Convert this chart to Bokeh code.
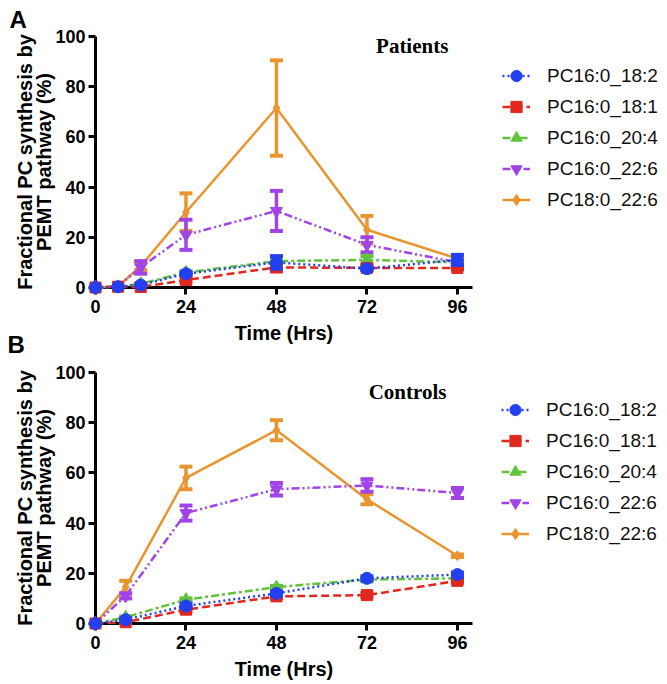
from bokeh.plotting import figure
from bokeh.models import Range1d, Legend, LegendItem, Label, FixedTicker, Title
from bokeh.layouts import column
from bokeh.embed import file_html
from bokeh.resources import INLINE

# ---------------- data ----------------
series_names = ["PC16:0_18:2", "PC16:0_18:1", "PC16:0_20:4", "PC16:0_22:6", "PC18:0_22:6"]

# Panel A: Patients
time_a = [0, 6, 12, 24, 48, 72, 96]
pat_18_2 = [0, 0.3, 1.0, 5.5, 10.0, 7.5, 11.0]
pat_18_1 = [0, 0.3, 0.2, 3.0, 8.0, 7.8, 7.8]
pat_20_4 = [0, 0.3, 1.5, 6.0, 10.5, 11.0, 10.0]
pat_22_6 = [0, 0.5, 8.0, 21.0, 30.5, 17.0, 10.0]
pat_18_0_22_6 = [0, 0.5, 8.5, 30.0, 71.5, 23.0, 11.5]
pat_err_18_2 = [0, 0, 0.3, 0.5, 2.5, 0.5, 2.0]
pat_err_18_1 = [0, 0, 0, 1.0, 1.5, 1.0, 0.5]
pat_err_20_4 = [0, 0, 0, 0.5, 1.5, 1.5, 1.0]
pat_err_22_6 = [0, 0, 2.5, 6.0, 8.0, 3.0, 0.5]
pat_err_18_0_22_6 = [0, 0, 1.5, 7.5, 19.0, 5.5, 0.5]

# Panel B: Controls
time_b = [0, 8, 24, 48, 72, 96]
con_18_2 = [0, 1.5, 7.0, 12.0, 18.0, 19.5]
con_18_1 = [0, 0.5, 5.5, 10.8, 11.3, 17.0]
con_20_4 = [0, 2.5, 9.5, 14.5, 17.5, 18.0]
con_22_6 = [0, 11.0, 44.0, 53.5, 55.0, 52.0]
con_18_0_22_6 = [0, 14.5, 58.0, 77.0, 49.5, 27.0]
con_err_18_2 = [0, 0.5, 0.8, 0.8, 0.8, 0.8]
con_err_18_1 = [0, 0.3, 0.8, 0.8, 0.8, 0.8]
con_err_20_4 = [0, 0.3, 0.5, 0.5, 0.5, 0.5]
con_err_22_6 = [0, 1.0, 3.0, 2.5, 2.5, 2.0]
con_err_18_0_22_6 = [0, 2.5, 4.5, 4.0, 2.0, 0.5]

x_ticks = [0, 24, 48, 72, 96]
y_ticks = [0, 20, 40, 60, 80, 100]

# ---------------- styles ----------------
colors = ["#2340f0", "#e0281e", "#62c23c", "#a044e6", "#e9952f"]
markers = ["circle", "square", "triangle", "inverted_triangle", "diamond"]
msizes = [12, 11, 12, 12, 10]
dashes = ["2 3", "8 4", "8 3 3 3", "8 3 2 3 2 3", "solid"]

SANS = "Liberation Sans"


def make_panel(times, ys, errs, title_text, title_xy, letter, letter_valign, letter_standoff,
               left_border, top_border, bottom_border, legend_offset):
    p = figure(frame_width=377, frame_height=251, output_backend="svg", toolbar_location=None,
               x_range=Range1d(0, 100), y_range=Range1d(0, 100),
               min_border_left=left_border, min_border_top=top_border,
               min_border_bottom=bottom_border, min_border_right=182)
    p.outline_line_color = None
    p.grid.visible = False
    p.background_fill_color = "white"
    p.border_fill_alpha = 0

    for ax in (p.xaxis[0], p.yaxis[0]):
        ax.axis_line_width = 3
        ax.axis_line_color = "black"
        ax.major_tick_line_width = 3
        ax.major_tick_line_color = "black"
        ax.major_tick_in = 0
        ax.major_tick_out = 7
        ax.minor_tick_line_color = None
        ax.major_label_text_font = SANS
        ax.major_label_text_font_style = "bold"
        ax.major_label_text_font_size = "18px"
        ax.major_label_text_color = "black"
        ax.axis_label_text_font = SANS
        ax.axis_label_text_font_style = "bold"
        ax.axis_label_text_font_size = "20px"
        ax.axis_label_text_color = "black"

    p.xaxis.ticker = FixedTicker(ticks=x_ticks)
    p.yaxis.ticker = FixedTicker(ticks=y_ticks)
    p.xaxis.axis_label = "Time (Hrs)"
    p.xaxis.major_label_standoff = 5
    p.xaxis.axis_label_standoff = 6
    p.yaxis.axis_label = "Fractional PC synthesis by\nPEMT pathway (%)"
    p.yaxis.axis_label_text_line_height = 0.9
    p.yaxis.major_label_standoff = 3
    p.yaxis.axis_label_standoff = -3

    order = [4, 3, 2, 1, 0]
    rends = {}
    for i in order:
        y = ys[i]
        e = errs[i]
        c = colors[i]
        ln = p.line(times, y, line_color=c, line_width=2.5, line_dash=dashes[i], level="overlay")
        ex = [t for t, ee in zip(times, e) if ee > 0]
        elo = [v - ee for v, ee in zip(y, e) if ee > 0]
        ehi = [v + ee for v, ee in zip(y, e) if ee > 0]
        if ex:
            p.segment(x0=ex, y0=elo, x1=ex, y1=ehi, line_color=c, line_width=3.5, level="overlay")
            p.scatter(ex + ex, elo + ehi, marker="dash", size=13, line_color=c, line_width=4, level="overlay")
        sc = p.scatter(times, y, marker=markers[i], size=msizes[i], fill_color=c, line_color=c, level="overlay")
        rends[i] = [ln, sc]

    items = [LegendItem(label=series_names[i], renderers=rends[i]) for i in range(5)]
    legend = Legend(items=items, location=legend_offset, orientation="vertical")
    legend.border_line_color = None
    legend.background_fill_alpha = 0
    legend.padding = 0
    legend.margin = 0
    legend.spacing = 0
    legend.glyph_width = 28
    legend.glyph_height = 31
    legend.label_height = 31
    legend.label_standoff = 17
    legend.label_text_font = SANS
    legend.label_text_font_size = "19px"
    legend.label_text_color = "#111111"
    p.add_layout(legend, "right")

    p.add_layout(Label(x=title_xy[0], y=title_xy[1], text=title_text, text_font="Liberation Serif",
                       text_font_style="bold", text_font_size="21px", text_align="right",
                       text_baseline="alphabetic", text_color="black"))

    t = Title(text=letter, align="left", offset=-left_border + 7, standoff=letter_standoff,
              vertical_align=letter_valign,
              text_font=SANS, text_font_style="bold", text_font_size="24px", text_color="black")
    p.add_layout(t, "above")
    return p


ys_a = [pat_18_2, pat_18_1, pat_20_4, pat_22_6, pat_18_0_22_6]
errs_a = [pat_err_18_2, pat_err_18_1, pat_err_20_4, pat_err_22_6, pat_err_18_0_22_6]
ys_b = [con_18_2, con_18_1, con_20_4, con_22_6, con_18_0_22_6]
errs_b = [con_err_18_2, con_err_18_1, con_err_20_4, con_err_22_6, con_err_18_0_22_6]

pA = make_panel(time_a, ys_a, errs_a, "Patients", (93.6, 96.4), "A", "top", 4,
                93, 36, 59, (30, 72))
pB = make_panel(time_b, ys_b, errs_b, "Controls", (93.1, 92.4), "B", "bottom", 30,
                95, 59, 59, (29, 74))
pB.margin = (-33, 0, 0, 0)

layout = column(pA, pB, spacing=0)
open("out.html", "w").write(file_html(layout, INLINE))
